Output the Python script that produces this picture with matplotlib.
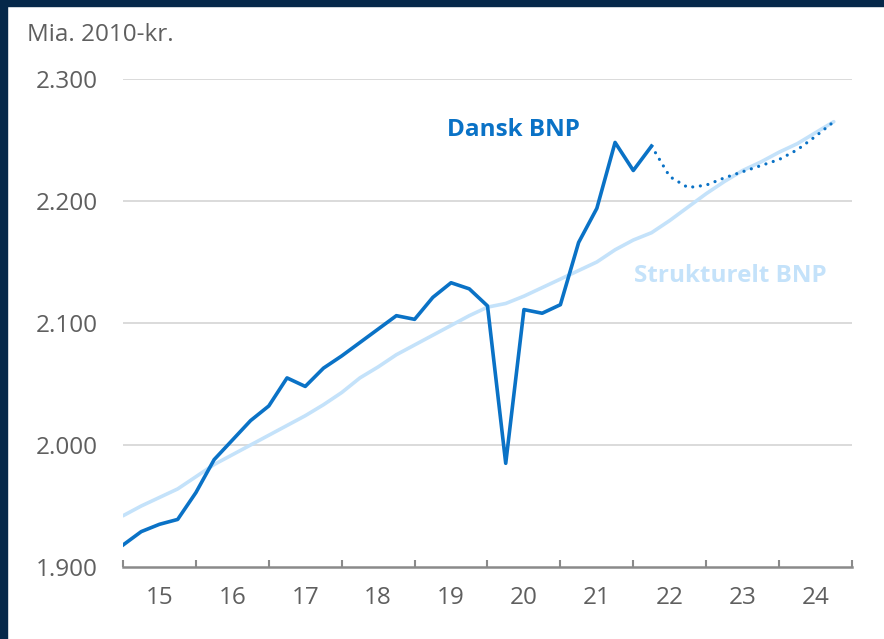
import matplotlib
matplotlib.use("Agg")
import matplotlib.pyplot as plt
import matplotlib.ticker as ticker
import numpy as np

# --- data: quarters 2015K1 .. 2024K4 ---
quarters = np.arange(40)
year_labels = ["15", "16", "17", "18", "19", "20", "21", "22", "23", "24"]

# Dansk BNP, realiseret (2015K1 - 2022K2)
bnp_actual = [1918, 1929, 1935, 1939, 1961, 1988, 2004, 2020, 2032, 2055,
              2048, 2063, 2073, 2084, 2095, 2106, 2103, 2121, 2133, 2128,
              2114, 1985, 2111, 2108, 2115, 2166, 2194, 2248, 2225, 2245]
# Dansk BNP, prognose (2022K2 - 2024K4)
bnp_forecast = [2245, 2220, 2211, 2213, 2219, 2224, 2229, 2234, 2242, 2253, 2265]

# Strukturelt BNP
bnp_struct = [1942, 1950, 1957, 1964, 1974, 1984, 1992, 2000, 2008, 2016,
              2024, 2033, 2043, 2055, 2064, 2074, 2082, 2090, 2098, 2106,
              2113, 2116, 2122, 2129, 2136, 2143, 2150, 2160, 2168, 2174,
              2184, 2195, 2206, 2216, 2225, 2232, 2240, 2247, 2256, 2265]

y_ticks = [1900, 2000, 2100, 2200, 2300]

# --- style ---
navy = '#06284a'
dark_blue = '#0a72c6'
light_blue = '#c4e2fa'
text_grey = '#5f5f5f'
grid_grey = '#d4d4d4'
axis_grey = '#8a8a8a'
plt.rcParams['font.family'] = ['Open Sans', 'DejaVu Sans']

W, H, dpi = 884, 639, 100
fig = plt.figure(figsize=(W / dpi, H / dpi), dpi=dpi, facecolor='white')

# navy frame on top and left edge
fig.patches.append(plt.Rectangle((0, 1 - 6 / H), 1, 6 / H, transform=fig.transFigure,
                                 color=navy, zorder=0))
fig.patches.append(plt.Rectangle((0, 0), 7 / W, 1, transform=fig.transFigure,
                                 color=navy, zorder=0))

ax = fig.add_axes([123 / W, (H - 567) / H, 729 / W, 488 / H])
ax.set_xlim(0, 40)
ax.set_ylim(1900, 2300)

# lines
ax.plot(quarters, bnp_struct, color=light_blue, lw=2.6, solid_capstyle='round', zorder=2)
ax.plot(quarters[:len(bnp_actual)], bnp_actual, color=dark_blue, lw=2.6, zorder=3)
fc_x = quarters[len(bnp_actual) - 1:]
ax.plot(fc_x, bnp_forecast, color=dark_blue, lw=2.3, linestyle=(0, (0.01, 2.4)),
        dash_capstyle='round', zorder=3)

# grid
for v in y_ticks[1:]:
    ax.axhline(v, color=grid_grey, lw=1.2, zorder=1)

for s in ['top', 'right', 'left']:
    ax.spines[s].set_visible(False)
ax.spines['bottom'].set_color(axis_grey)
ax.spines['bottom'].set_linewidth(1.8)

# y axis
ax.set_yticks(y_ticks)
ax.yaxis.set_major_formatter(ticker.FuncFormatter(lambda v, p: f'{int(v):,}'.replace(',', '.')))
ax.tick_params(axis='y', length=0, pad=18, labelsize=17.5, labelcolor=text_grey)

# x axis: ticks at year boundaries, labels in the middle
ax.set_xticks(np.arange(0, 41, 4))
ax.set_xticklabels([])
ax.set_xticks(np.arange(2, 40, 4), minor=True)
ax.set_xticklabels(year_labels, minor=True)
ax.tick_params(axis='x', which='major', direction='in', length=5, width=1.5, color=axis_grey)
ax.tick_params(axis='x', which='minor', length=0, pad=14, labelsize=17.5, labelcolor=text_grey)

# labels
fig.text(27 / W, 1 - 35 / H, 'Mia. 2010-kr.', fontsize=17.5, color=text_grey,
         ha='left', va='center')
fig.text(447 / W, 1 - 130 / H, 'Dansk BNP', fontsize=17.5,
         fontweight='bold', color=dark_blue, ha='left', va='center')
fig.text(634 / W, 1 - 276 / H, 'Strukturelt BNP', fontsize=17.5,
         fontweight='bold', color=light_blue, ha='left', va='center')

fig.savefig('out.png', dpi=dpi, facecolor='white')
